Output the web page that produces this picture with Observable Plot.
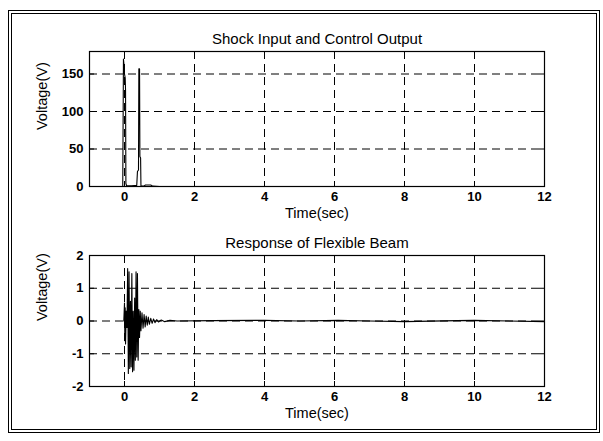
<!DOCTYPE html>
<html>
<head>
<meta charset="utf-8">
<script src="https://cdn.jsdelivr.net/npm/d3@7"></script>
<script src="https://cdn.jsdelivr.net/npm/@observablehq/plot@0.6"></script>
<style>
  body { margin: 0; background: #fff; }
  #page { position: relative; width: 603px; height: 441px; overflow: hidden; background: #fff;
          font-family: "Liberation Sans", Arial, sans-serif; }
  #frame { position: absolute; left: 8px; top: 10px; width: 584px; height: 415px; border: 4px double #000; }
  .chart { position: absolute; left: 0; }
</style>
</head>
<body>
<div id="page">
  <div id="frame"></div>
  <div id="top" class="chart" style="top:0px"></div>
  <div id="bottom" class="chart" style="top:220px"></div>
</div>
<script>
// ---- data ----
const xTicks = [0, 2, 4, 6, 8, 10, 12];
const shockTicks = [0, 50, 100, 150];
const beamTicks = [-2, -1, 0, 1, 2];

const shockTitle = "Shock Input and Control Output";
const beamTitle = "Response of Flexible Beam";
const xLabel = "Time(sec)";
const yLabel = "Voltage(V)";

// Shock input and control output (V)
const shockTime = [-0.05, -0.03, -0.01, 0.0, 0.02, 0.03, 0.04, 0.06, 0.2, 0.35, 0.37, 0.40, 0.41, 0.43, 0.44, 0.46, 0.47, 0.55, 0.6, 0.75, 0.8, 1.0, 12];
const shockVolt = [0, 170, 160, 150, 145, 128, 4, 1, 1, 1.5, 20, 22, 157, 157, 40, 38, 1, 0.5, 2, 2, 0.5, 0, 0];

// Response of flexible beam (V)
const beamTime = [-0.02, 0.0, 0.01, 0.02, 0.03, 0.05, 0.07, 0.09, 0.11, 0.13, 0.15, 0.17, 0.19, 0.21, 0.23, 0.25, 0.27, 0.29, 0.31, 0.33, 0.35, 0.37, 0.39, 0.41, 0.43, 0.45, 0.47, 0.50, 0.53, 0.56, 0.59, 0.62, 0.65, 0.68, 0.71, 0.75, 0.79, 0.83, 0.87, 0.92, 0.97, 1.05, 1.15, 1.3, 1.5, 2.5, 4.0, 5.0, 6.1, 7.0, 8.0, 9.5, 10.0, 12.0];
const beamVolt = [0, 0.55, -0.6, 0.4, -0.7, 0.3, -0.2, 1.6, -1.6, 1.5, -1.45, 0.6, -1.4, 1.45, -1.55, 0.3, -1.5, 0.7, -1.2, 1.5, -1.1, 1.45, -1.2, 0.35, -0.5, 0.3, -0.3, 0.25, -0.22, 0.2, -0.18, 0.15, -0.13, 0.12, -0.1, 0.08, -0.07, 0.06, -0.05, 0.04, -0.03, 0.03, -0.02, 0.02, 0, 0.01, 0.02, 0, 0.02, 0, -0.02, 0.01, 0.02, -0.02];

// ---- drawing ----
const font = "Liberation Sans, Arial, sans-serif";

function panel({title, yDomain, yTicks, time, volt, height, marginTop, marginBottom, yLabelShift}) {
  const marginLeft = 89, marginRight = 59;
  const plotH = height - marginTop - marginBottom;
  const plotW = 603 - marginLeft - marginRight;
  const pts = time.map((t, i) => ({t, v: volt[i]}));
  const dash = "8,5";
  return Plot.plot({
    width: 603,
    height,
    marginLeft, marginRight, marginTop, marginBottom,
    style: {fontFamily: font, fontSize: "13px", color: "black", background: "transparent", overflow: "visible"},
    x: {domain: [-1, 12]},
    y: {domain: yDomain},
    marks: [
      Plot.gridX(xTicks, {stroke: "black", strokeOpacity: 1, strokeDasharray: dash}),
      Plot.gridY(yTicks, {stroke: "black", strokeOpacity: 1, strokeDasharray: dash}),
      Plot.line(pts, {x: "t", y: "v", stroke: "black", strokeWidth: 1.1}),
      Plot.frame({stroke: "black", strokeWidth: 1.2}),
      // inward tick marks on all four sides
      Plot.tickX(xTicks, {x: d => d, stroke: "black", insetTop: plotH - 5}),
      Plot.tickX(xTicks, {x: d => d, stroke: "black", insetBottom: plotH - 5}),
      Plot.tickY(yTicks, {y: d => d, stroke: "black", insetRight: plotW - 5}),
      Plot.tickY(yTicks, {y: d => d, stroke: "black", insetLeft: plotW - 5}),
      Plot.axisX(xTicks, {label: null, tickSize: 0, tickPadding: 5, fontSize: 13, fontWeight: "bold", tickFormat: d => String(d)}),
      Plot.axisY(yTicks, {label: null, tickSize: 0, tickPadding: 6, fontSize: 13, fontWeight: "bold", tickFormat: d => String(d)}),
      Plot.text([title], {frameAnchor: "top", dy: -8, lineAnchor: "bottom", fontSize: 15, fill: "black"}),
      Plot.text([xLabel], {frameAnchor: "bottom", dy: 21, lineAnchor: "top", fontSize: 14.5, fill: "black"}),
      Plot.text([yLabel], {frameAnchor: "left", dx: -47, dy: yLabelShift, rotate: -90, fontSize: 14.5, fill: "black"})
    ]
  });
}

document.getElementById("top").append(panel({
  title: shockTitle, yDomain: [0, 180], yTicks: shockTicks,
  time: shockTime, volt: shockVolt,
  height: 230, marginTop: 51, marginBottom: 44, yLabelShift: 11
}));

document.getElementById("bottom").append(panel({
  title: beamTitle, yDomain: [-2, 2], yTicks: beamTicks,
  time: beamTime, volt: beamVolt,
  height: 221, marginTop: 35, marginBottom: 55, yLabelShift: 0
}));
</script>
</body>
</html>
